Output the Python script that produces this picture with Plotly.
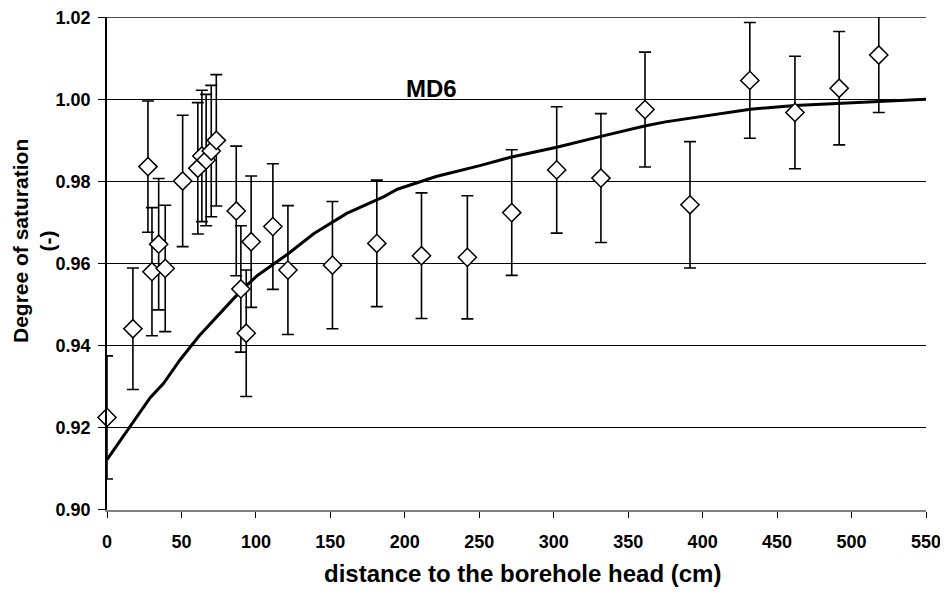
import plotly.graph_objects as go

# Measured data (diamonds with error bars)
dist_cm = [0, 17.4, 27.5, 30.2, 34.7, 39.1, 50.8, 61.0, 63.7, 66.6, 70.0, 73.4,
           86.8, 89.9, 93.5, 96.8, 111.4, 121.5, 151.4, 181.2, 211.2, 242.0,
           271.8, 302.0, 331.7, 361.3, 391.5, 431.7, 462.0, 491.7, 518.3]
saturation = [0.9225, 0.9441, 0.9836, 0.9580, 0.9647, 0.9588, 0.9801, 0.9832, 0.9862, 0.9852, 0.9874, 0.9900,
              0.9728, 0.9538, 0.9430, 0.9653, 0.9690, 0.9584, 0.9596, 0.9649, 0.9619, 0.9615,
              0.9724, 0.9828, 0.9808, 0.9975, 0.9743, 1.0046, 0.9968, 1.0027, 1.0108]
sat_error = [0.0150, 0.0148, 0.0160, 0.0156, 0.0160, 0.0154, 0.0160, 0.0160, 0.0160, 0.0160, 0.0160, 0.0160,
             0.0158, 0.0154, 0.0154, 0.0160, 0.0153, 0.0157, 0.0155, 0.0154, 0.0153, 0.0150,
             0.0153, 0.0154, 0.0157, 0.0140, 0.0154, 0.0141, 0.0137, 0.0138, 0.0140]

# MD6 model curve
model_x = [0, 14.5, 29, 38, 49, 61.5, 74, 89.5, 101, 116, 121, 139, 161, 186, 195, 221, 239, 251,
           271, 302, 331, 361, 375, 398, 418, 432, 462, 492, 518, 550]
model_y = [0.9122, 0.9199, 0.9273, 0.9308, 0.9365, 0.9422, 0.9470, 0.9532, 0.9571, 0.9608, 0.9622,
           0.9673, 0.9722, 0.9763, 0.9781, 0.9812, 0.9828, 0.9839, 0.9859, 0.9883, 0.9909, 0.9935,
           0.9945, 0.9958, 0.9968, 0.9976, 0.9985, 0.9990, 0.9996, 1.0000]

x_ticks = [0, 50, 100, 150, 200, 250, 300, 350, 400, 450, 500, 550]
y_ticks = [0.90, 0.92, 0.94, 0.96, 0.98, 1.00, 1.02]
y_tick_labels = ["0.90", "0.92", "0.94", "0.96", "0.98", "1.00", "1.02"]

FONT = "Liberation Sans, Arial, sans-serif"

fig = go.Figure()

# Error bars (clipped to the plot area)
fig.add_trace(go.Scatter(
    x=dist_cm, y=saturation, mode="markers",
    marker=dict(size=1, color="rgba(0,0,0,0)"),
    error_y=dict(type="data", array=sat_error, visible=True, color="black",
                 thickness=1.6, width=6),
    cliponaxis=True, showlegend=False, hoverinfo="skip"))

# Model curve
fig.add_trace(go.Scatter(
    x=model_x, y=model_y, mode="lines",
    line=dict(color="black", width=3), showlegend=False))

# Diamonds
fig.add_trace(go.Scatter(
    x=dist_cm, y=saturation, mode="markers",
    marker=dict(symbol="diamond", size=14, color="white",
                line=dict(color="black", width=1.5)),
    cliponaxis=False, showlegend=False))

fig.update_layout(
    width=940, height=588,
    margin=dict(l=99, r=22, t=9, b=86),
    paper_bgcolor="white", plot_bgcolor="white",
    font=dict(family=FONT, color="black"),
    xaxis=dict(range=[0, 550], tickvals=x_ticks, showgrid=False, zeroline=False,
               showline=True, linecolor="#808080", linewidth=1.5,
               ticks="outside", ticklen=6, tickcolor="black", tickwidth=1,
               ticklabelstandoff=9, ticklabeloverflow="allow", automargin=False,
               tickfont=dict(family=FONT, size=18, weight="bold", color="black")),
    yaxis=dict(range=[0.89995, 1.02005], tickvals=y_ticks, ticktext=y_tick_labels,
               showgrid=True, gridcolor="black", gridwidth=1, zeroline=False,
               showline=True, linecolor="black", linewidth=1.5,
               ticks="outside", ticklen=7, tickcolor="black", tickwidth=1,
               ticklabelstandoff=4, ticklabeloverflow="allow", automargin=False,
               tickfont=dict(family=FONT, size=18, weight="bold", color="black")),
    shapes=[dict(type="line", xref="paper", x0=0, x1=1, yref="y", y0=y_ticks[-1], y1=y_ticks[-1],
                 line=dict(color="black", width=1), layer="below")],
    annotations=[
        dict(text="MD6", x=217.6, y=1.0027, xref="x", yref="y", showarrow=False,
             font=dict(family=FONT, size=24, weight="bold", color="black")),
        dict(text="distance to the borehole head (cm)", x=(522.5 - 107) / 819, y=(510 - 573) / 493,
             xref="paper", yref="paper", showarrow=False, xanchor="center", yanchor="middle",
             font=dict(family=FONT, size=24, weight="bold", color="black")),
        dict(text="Degree of saturation<br>(-)", x=(34 - 107) / 819, y=(510 - 241) / 493,
             xref="paper", yref="paper", showarrow=False, textangle=-90,
             xanchor="center", yanchor="middle", borderpad=0,
             font=dict(family=FONT, size=21, weight="bold", color="black")),
    ],
)

fig.write_html("out.html")
